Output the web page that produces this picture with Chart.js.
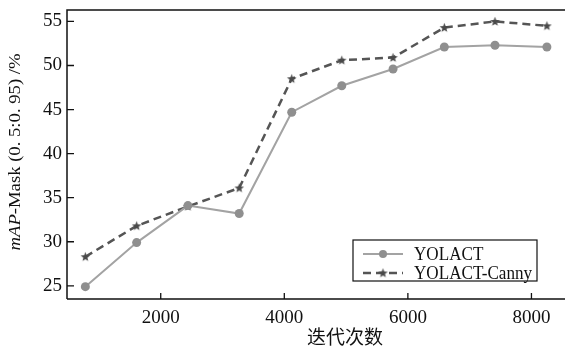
<!DOCTYPE html>
<html>
<head>
<meta charset="utf-8">
<script src="https://cdn.jsdelivr.net/npm/chart.js@4/dist/chart.umd.min.js"></script>
<style>
  html, body { margin: 0; padding: 0; background: #fff; overflow: hidden; }
  #wrap { width: 565px; height: 347px; }
</style>
</head>
<body>
<div id="wrap"><canvas id="myChart" width="565" height="347"></canvas></div>
<script>
// values
const iterations = [780, 1610, 2440, 3270, 4120, 4930, 5760, 6590, 7410, 8250]
const yolact = [24.9, 29.9, 34.1, 33.2, 44.7, 47.7, 49.6, 52.1, 52.3, 52.1]
const yolactCanny = [28.3, 31.8, 34.0, 36.1, 48.5, 50.6, 50.9, 54.3, 55.0, 54.5]
const xTicks = [2000, 4000, 6000, 8000]
const yTicks = [25, 30, 35, 40, 45, 50, 55]
const seriesNames = ['YOLACT', 'YOLACT-Canny']
const xTitle = '迭代次数'

const serif = '"Liberation Serif", "DejaVu Serif", serif'

// filled five point star for the Canny markers
function makeStar(color) {
    const c = document.createElement('canvas')
    c.width = 11
    c.height = 11
    const g = c.getContext('2d')
    g.fillStyle = color
    g.beginPath()
    for (let i = 0; i < 10; i++) {
        const r = i % 2 === 0 ? 5 : 2.1
        const a = -Math.PI / 2 + i * Math.PI / 5
        const px = 5.5 + r * Math.cos(a)
        const py = 5.8 + r * Math.sin(a)
        if (i === 0) g.moveTo(px, py)
        else g.lineTo(px, py)
    }
    g.closePath()
    g.fill()
    return c
}
const star = makeStar('#4a4a4a')

const toPoints = (xs, ys) => xs.map((x, i) => ({ x: x, y: ys[i] }))

// inward ticks, axis lines, titles and the boxed legend
const decor = {
    id: 'decor',
    afterDraw(chart) {
        const ctx = chart.ctx
        const a = chart.chartArea
        const xs = chart.scales.x
        const ys = chart.scales.y
        ctx.save()
        ctx.strokeStyle = '#111'
        ctx.lineWidth = 1.5
        ctx.beginPath()
        ctx.moveTo(a.left, a.bottom)
        ctx.lineTo(a.left, a.top)
        ctx.lineTo(a.right, a.top)
        ctx.moveTo(a.left, a.bottom)
        ctx.lineTo(a.right, a.bottom)
        ctx.stroke()

        ctx.lineWidth = 1.3
        ctx.beginPath()
        yTicks.forEach(v => {
            const py = ys.getPixelForValue(v)
            ctx.moveTo(a.left, py)
            ctx.lineTo(a.left + 7, py)
        })
        xTicks.forEach(v => {
            const px = xs.getPixelForValue(v)
            ctx.moveTo(px, a.bottom)
            ctx.lineTo(px, a.bottom - 6)
        })
        ctx.stroke()

        // x title (axis runs past the cropped right edge)
        ctx.fillStyle = '#111'
        ctx.font = '19px "Noto Sans CJK SC"'
        ctx.textAlign = 'center'
        ctx.textBaseline = 'middle'
        ctx.fillText(xTitle, 345, 337)

        // y title with italic mAP
        ctx.save()
        ctx.translate(16, 152)
        ctx.rotate(-Math.PI / 2)
        const part1 = 'mAP'
        const part2 = '-Mask (0. 5:0. 95) /%'
        ctx.font = 'italic 17px ' + serif
        const w1 = ctx.measureText(part1).width
        ctx.font = '17px ' + serif
        const w2 = ctx.measureText(part2).width
        const k = 197 / (w1 + w2)
        ctx.scale(k, 1)
        let sx = -(w1 + w2) / 2
        ctx.textAlign = 'left'
        ctx.font = 'italic 17px ' + serif
        ctx.fillText(part1, sx, 0)
        ctx.font = '17px ' + serif
        ctx.fillText(part2, sx + w1, 0)
        ctx.restore()

        // legend box
        const bx = a.right - 212, by = a.bottom - 59, bw = 184, bh = 41
        ctx.fillStyle = '#fff'
        ctx.fillRect(bx, by, bw, bh)
        ctx.strokeStyle = '#111'
        ctx.lineWidth = 1.2
        ctx.strokeRect(bx, by, bw, bh)
        chart.data.datasets.forEach((ds, i) => {
            const ly = by + 14 + i * 19
            ctx.strokeStyle = ds.borderColor
            ctx.lineWidth = ds.borderWidth
            ctx.setLineDash(ds.borderDash || [])
            ctx.beginPath()
            ctx.moveTo(bx + 10, ly)
            ctx.lineTo(bx + 50, ly)
            ctx.stroke()
            ctx.setLineDash([])
            if (ds.pointStyle === 'circle') {
                ctx.fillStyle = ds.pointBackgroundColor
                ctx.beginPath()
                ctx.arc(bx + 30, ly, 4, 0, Math.PI * 2)
                ctx.fill()
            } else {
                ctx.drawImage(ds.pointStyle, bx + 30 - 5.5, ly - 5.5)
            }
            ctx.fillStyle = '#111'
            ctx.font = '18px ' + serif
            ctx.textAlign = 'left'
            ctx.textBaseline = 'middle'
            ctx.save()
            ctx.translate(bx + 61, ly + 1)
            ctx.scale(0.95, 1)
            ctx.fillText(ds.label, 0, 0)
            ctx.restore()
        })
        ctx.restore()
    }
}

const ctx = document.getElementById('myChart')
new Chart(ctx, {
    type: 'line',
    data: {
        datasets: [{
            label: seriesNames[0],
            data: toPoints(iterations, yolact),
            borderColor: '#a3a3a3',
            borderWidth: 2,
            pointStyle: 'circle',
            pointRadius: 4.5,
            pointBackgroundColor: '#8f8f8f',
            pointBorderWidth: 0,
            tension: 0
        }, {
            label: seriesNames[1],
            data: toPoints(iterations, yolactCanny),
            borderColor: '#555555',
            borderWidth: 2.5,
            borderDash: [8, 5],
            pointStyle: star,
            pointRadius: 5,
            tension: 0
        }]
    },
    options: {
        responsive: false,
        animation: false,
        devicePixelRatio: 1,
        layout: { autoPadding: false, padding: { top: 10, right: 0, left: 0, bottom: 0 } },
        plugins: {
            legend: { display: false },
            tooltip: { enabled: false }
        },
        scales: {
            x: {
                type: 'linear',
                min: 483,
                max: 8543,
                afterFit: s => {
                    s.height = 48
                    s.paddingLeft = 0
                    s.paddingRight = 0
                },
                afterBuildTicks: s => { s.ticks = xTicks.map(v => ({ value: v })) },
                grid: { display: false, drawTicks: false },
                border: { display: false },
                ticks: {
                    padding: 8,
                    maxRotation: 0,
                    color: '#111',
                    font: { family: serif, size: 19 },
                    callback: v => String(v)
                }
            },
            y: {
                min: 23.5,
                max: 56.3,
                afterFit: s => {
                    s.width = 67
                    s.paddingTop = 0
                    s.paddingBottom = 0
                },
                afterBuildTicks: s => { s.ticks = yTicks.map(v => ({ value: v })) },
                grid: { display: false, drawTicks: false },
                border: { display: false },
                ticks: {
                    padding: 5,
                    color: '#111',
                    font: { family: serif, size: 19 },
                    callback: v => String(v)
                }
            }
        }
    },
    plugins: [decor]
})
</script>
</body>
</html>
